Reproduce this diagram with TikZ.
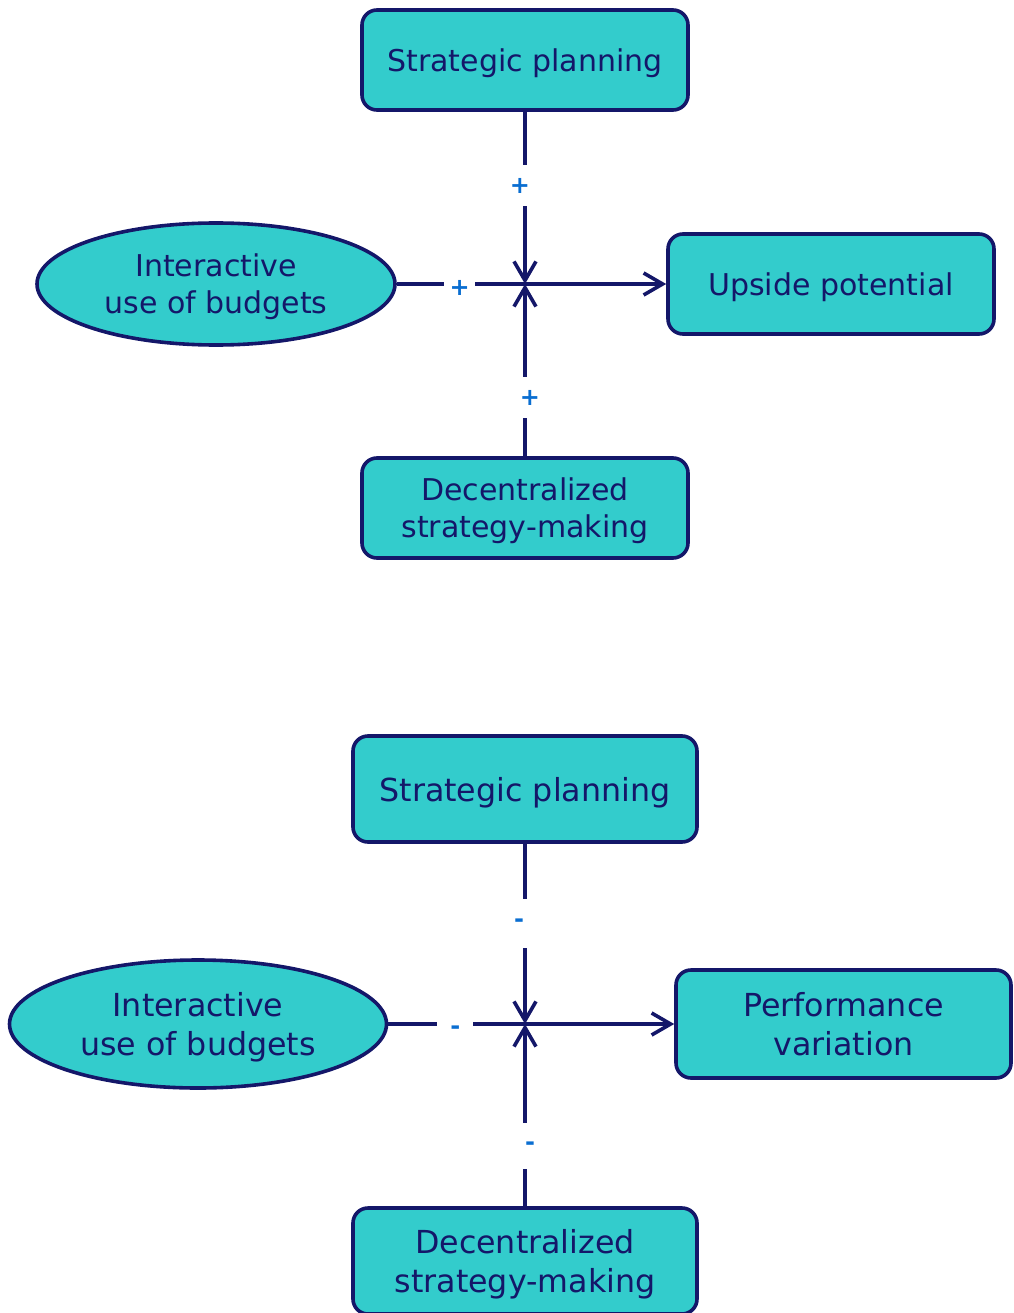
\documentclass[tikz,border=0pt]{standalone}
\usepackage{fontspec}
\setmainfont{DejaVu Sans}
\usetikzlibrary{shapes.geometric,arrows.meta}
\definecolor{zzcccc}{rgb}{0.2,0.8,0.8}
\definecolor{qqqqtt}{rgb}{0.08,0.09,0.41}
\definecolor{qqttcc}{rgb}{0.04,0.43,0.82}

\begin{document}
\begin{tikzpicture}[x=1pt,y=-1pt,line join=round,>={Straight Barb[length=19pt,width=22pt]},
  box/.style={draw=qqqqtt,line width=3.6pt,fill=zzcccc,rounded corners=15pt,text=qqqqtt,align=center,inner sep=0pt,text depth=0pt},
  oval/.style={ellipse,draw=qqqqtt,line width=3.6pt,fill=zzcccc,text=qqqqtt,align=center,inner sep=0pt,text depth=0pt},
  link/.style={draw=qqqqtt,line width=3.6pt},
  sign/.style={fill=white,text=qqttcc,inner sep=0pt,minimum width=26pt,minimum height=26pt,font=\fontsize{24}{24}\selectfont\bfseries}]
\useasboundingbox (0,0) rectangle (1013,1313);
% upper model
\begin{scope}[font=\fontsize{30}{37}\selectfont]
\node[box,minimum width=326pt,minimum height=100pt] (sp1) at (525,60) {Strategic planning};
\node[oval,minimum width=358pt,minimum height=122pt] (iub1) at (216,284) {Interactive\\use of budgets};
\node[box,minimum width=326pt,minimum height=100pt] (up1) at (831,284) {Upside potential};
\node[box,minimum width=326pt,minimum height=100pt] (dsm1) at (525,508) {Decentralized\\strategy-making};
\coordinate (j1) at (525,284);
\draw[link,->] (sp1) -- node[sign,pos=0.43,minimum height=41pt,xshift=-5pt]{+} (j1);
\draw[link,->] (dsm1) -- node[sign,pos=0.34,minimum height=41pt,xshift=5pt]{+} (j1);
\draw[link] (iub1) -- node[sign,pos=0.49,minimum width=31pt,yshift=-4pt]{+} (j1);
\draw[link,->] (j1) -- (up1);
\end{scope}
% lower model
\begin{scope}[font=\fontsize{31.7}{39}\selectfont]
\node[box,minimum width=344pt,minimum height=106pt] (sp2) at (525,789) {Strategic planning};
\node[oval,minimum width=377pt,minimum height=128pt] (iub2) at (198,1024) {Interactive\\use of budgets};
\node[box,minimum width=335pt,minimum height=108pt] (pv2) at (843.5,1024) {Performance\\variation};
\node[box,minimum width=344pt,minimum height=106pt] (dsm2) at (525,1261) {Decentralized\\strategy-making};
\coordinate (j2) at (525,1024);
\draw[link,->] (sp2) -- node[sign,pos=0.44,minimum height=49pt,xshift=-6pt]{-} (j2);
\draw[link,->] (dsm2) -- node[sign,pos=0.33,minimum height=46pt,xshift=5pt]{-} (j2);
\draw[link] (iub2) -- node[sign,pos=0.49,minimum width=36pt,yshift=-6pt]{-} (j2);
\draw[link,->] (j2) -- (pv2);
\end{scope}
\end{tikzpicture}
\end{document}
